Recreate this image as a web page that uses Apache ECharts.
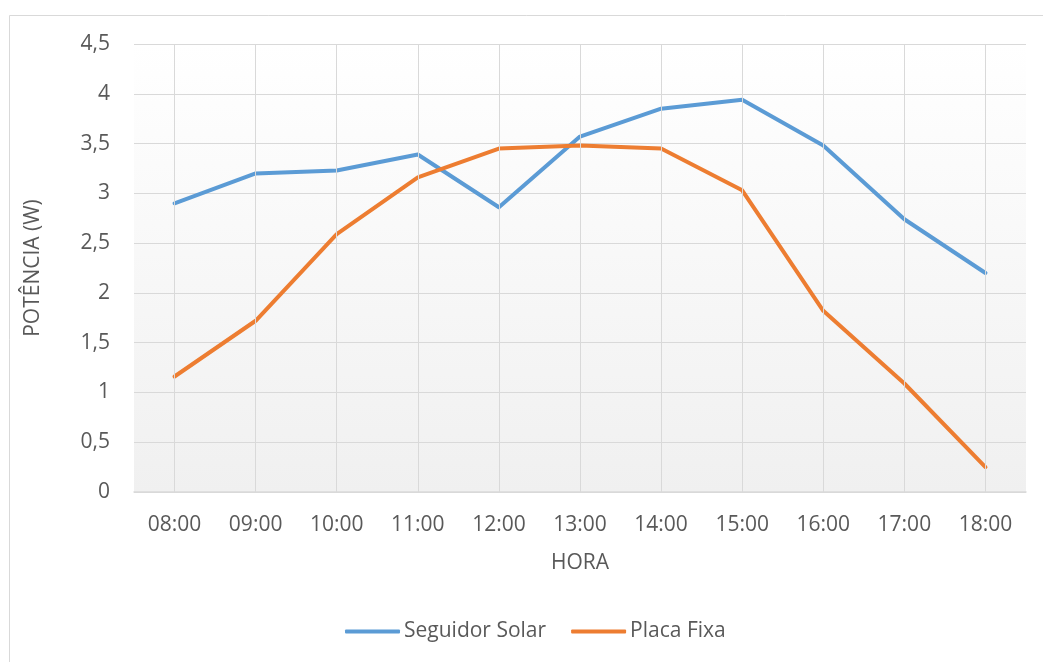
<!DOCTYPE html>
<html>
<head>
<meta charset="utf-8">
<script src="https://cdn.jsdelivr.net/npm/echarts@6/dist/echarts.min.js"></script>
<style>
html,body{margin:0;padding:0;background:#fff;}
#chart{width:1043px;height:662px;}
</style>
</head>
<body>
<div id="chart"></div>
<script>
const categories = ['08:00','09:00','10:00','11:00','12:00','13:00','14:00','15:00','16:00','17:00','18:00'];
const seguidorSolar = [2.90, 3.20, 3.23, 3.39, 2.86, 3.57, 3.85, 3.94, 3.48, 2.74, 2.20];
const placaFixa = [1.16, 1.72, 2.59, 3.16, 3.45, 3.48, 3.45, 3.03, 1.82, 1.09, 0.25];
const seriesNames = ['Seguidor Solar', 'Placa Fixa'];
const yAxisTitle = 'POTÊNCIA (W)';
const xAxisTitle = 'HORA';

const FONT = '"Open Sans", sans-serif';
const TXT = '#595959';
const GRID = '#d9d9d9';

const chart = echarts.init(document.getElementById('chart'), null, {renderer: 'canvas'});
chart.setOption({
  backgroundColor: '#ffffff',
  animation: false,
  graphic: [{
    type: 'rect',
    shape: {x: 9.5, y: 15.5, width: 1040, height: 660},
    style: {fill: 'none', stroke: GRID, lineWidth: 1},
    silent: true, z: -10
  }],
  grid: {
    left: 134, right: 17, top: 44, bottom: 170,
    show: true,
    borderWidth: 0,
    backgroundColor: new echarts.graphic.LinearGradient(0, 0, 0, 1, [
      {offset: 0, color: '#ffffff'},
      {offset: 1, color: '#f0f0f0'}
    ])
  },
  legend: {
    left: 345, top: 621,
    padding: 0,
    itemWidth: 55, itemHeight: 4,
    itemGap: 25,
    icon: 'roundRect',
    textStyle: {fontFamily: FONT, fontSize: 21, color: TXT, padding: [0, 0, 0, -1]},
    data: seriesNames
  },
  xAxis: {
    type: 'category',
    data: categories,
    boundaryGap: true,
    name: xAxisTitle,
    nameLocation: 'middle',
    nameGap: 61,
    nameTextStyle: {fontFamily: FONT, fontSize: 21, color: TXT},
    axisLine: {show: true, lineStyle: {color: GRID, width: 1.5}},
    axisTick: {show: false},
    axisLabel: {fontFamily: FONT, fontSize: 21, color: TXT, margin: 23},
    splitLine: {show: false}
  },
  yAxis: {
    type: 'value',
    min: 0, max: 4.5, interval: 0.5,
    name: yAxisTitle,
    nameLocation: 'middle',
    nameRotate: 90,
    nameGap: 90,
    nameTextStyle: {fontFamily: FONT, fontSize: 21, color: TXT},
    axisLine: {show: false},
    axisTick: {show: false},
    axisLabel: {
      fontFamily: FONT, fontSize: 21, color: TXT, margin: 24,
      formatter: v => String(v).replace('.', ',')
    },
    splitLine: {show: true, lineStyle: {color: GRID, width: 1}}
  },
  series: [
    {
      name: '_vgrid', type: 'line', data: [], silent: true, z: 1,
      markLine: {
        silent: true, symbol: 'none', label: {show: false},
        lineStyle: {color: GRID, width: 1, type: 'solid'},
        emphasis: {disabled: true},
        data: categories.map(c => ({xAxis: c}))
      }
    },
    {
      name: seriesNames[0], type: 'line', data: seguidorSolar, z: 3,
      symbol: 'none', color: '#5B9BD5',
      lineStyle: {width: 4, color: '#5B9BD5', cap: 'round', join: 'round'}
    },
    {
      name: seriesNames[1], type: 'line', data: placaFixa, z: 4,
      symbol: 'none', color: '#ED7D31',
      lineStyle: {width: 4, color: '#ED7D31', cap: 'round', join: 'round'}
    }
  ]
});
</script>
</body>
</html>
